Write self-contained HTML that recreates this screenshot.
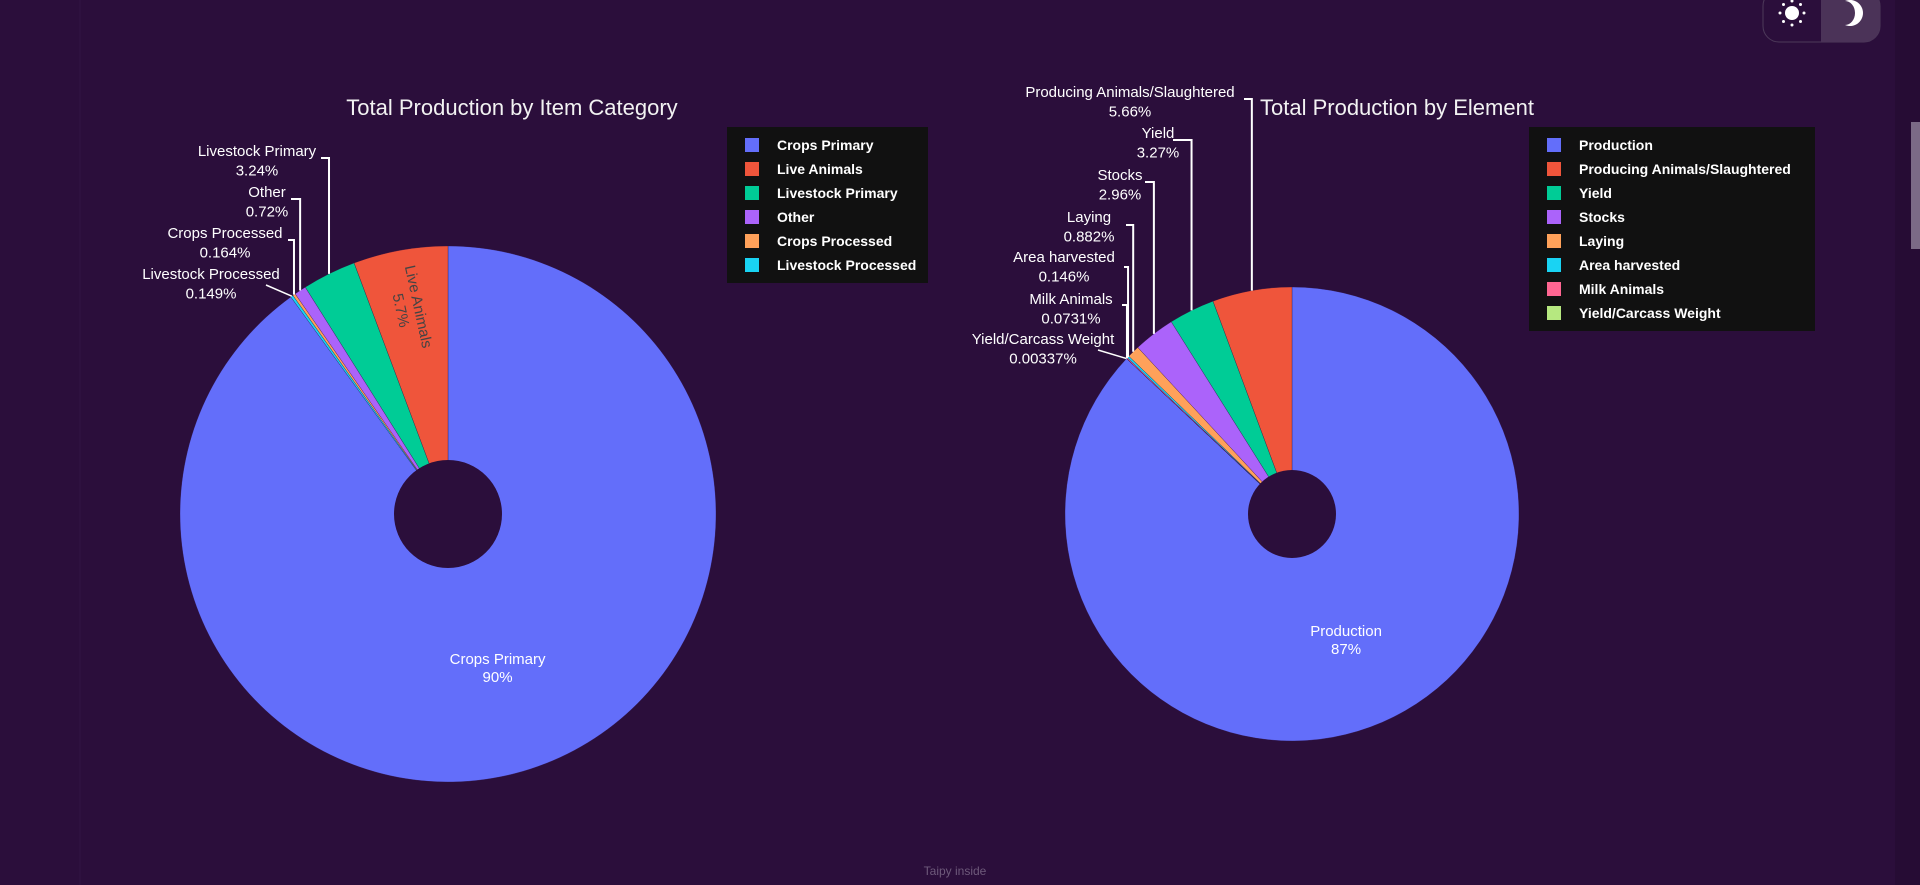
<!DOCTYPE html>
<html><head><meta charset="utf-8">
<style>
html,body{margin:0;padding:0;width:1920px;height:885px;overflow:hidden;background:#2b0e3b;font-family:"Liberation Sans",sans-serif;}
svg{position:absolute;left:0;top:0}
</style></head>
<body>
<svg id="chart" width="1920" height="885">
  <rect x="0" y="0" width="1920" height="885" fill="#2b0e3b"/>
  <line x1="80" y1="0" x2="80" y2="885" stroke="#321443" stroke-width="1"/>
  <rect x="1895" y="0" width="25" height="885" fill="#260c34"/>
  <rect x="1911" y="122" width="9" height="127" fill="#7b6a86"/>
  <g>
    <rect x="1763" y="-10" width="117" height="52" rx="16" fill="#2b0e3b" stroke="#4d3a5a"/>
    <path d="M1821,-10 H1864 A16,16 0 0 1 1880,6 V26 A16,16 0 0 1 1864,42 H1821 Z" fill="#4b3358"/>
    <g fill="#fff">
      <circle cx="1792" cy="13" r="7"/>
      <circle cx="1792" cy="1" r="1.5"/><circle cx="1792" cy="25" r="1.5"/>
      <circle cx="1780" cy="13" r="1.5"/><circle cx="1804" cy="13" r="1.5"/>
      <circle cx="1783.5" cy="4.5" r="1.5"/><circle cx="1800.5" cy="4.5" r="1.5"/>
      <circle cx="1783.5" cy="21.5" r="1.5"/><circle cx="1800.5" cy="21.5" r="1.5"/>
    </g>
    <path d="M1845,1 A13,13 0 1 1 1845,25 A10,12 0 0 0 1845,1 Z" fill="#fff"/>
  </g>
  <text x="512" y="109" fill="#f2f2f2" font-size="22" text-anchor="middle" dominant-baseline="middle">Total Production by Item Category</text>
  <text x="1260" y="109" fill="#f2f2f2" font-size="22" dominant-baseline="middle">Total Production by Element</text>
  <g id="left"></g>
  <g id="right"></g>
  <text x="955" y="872" fill="#6e5a7b" font-size="12" text-anchor="middle" dominant-baseline="middle">Taipy inside</text>
</svg>
<script>
// Left chart data
const leftCategories = ["Crops Primary","Live Animals","Livestock Primary","Other","Crops Processed","Livestock Processed"];
const leftValues = [90.0, 5.7, 3.24, 0.72, 0.164, 0.149];
const leftLabels = ["90%","5.7%","3.24%","0.72%","0.164%","0.149%"];
// Right chart data
const rightCategories = ["Production","Producing Animals/Slaughtered","Yield","Stocks","Laying","Area harvested","Milk Animals","Yield/Carcass Weight"];
const rightValues = [87.0, 5.66, 3.27, 2.96, 0.882, 0.146, 0.0731, 0.00337];
const rightLabels = ["87%","5.66%","3.27%","2.96%","0.882%","0.146%","0.0731%","0.00337%"];
const colors = ["#636efa","#ef553b","#00cc96","#ab63fa","#ffa15a","#19d3f3","#ff6692","#b6e880"];

const NS="http://www.w3.org/2000/svg";
function mk(tag, attrs, parent){const e=document.createElementNS(NS,tag);for(const k in attrs)e.setAttribute(k,attrs[k]);parent.appendChild(e);return e;}
function pt(cx,cy,r,a){const t=a*Math.PI/180;return [cx+r*Math.sin(t), cy-r*Math.cos(t)];}

function drawPie(g, cats, vals, labels, cfg){
  const total = vals.reduce((a,b)=>a+b,0);
  const angles=[];
  let a0=0, a1=vals[0]/total*360; angles.push([a0,a1]);
  let end=360;
  for(let i=1;i<vals.length;i++){const s=vals[i]/total*360;angles.push([end-s,end]);end-=s;}
  for(let i=0;i<vals.length;i++){
    const [s,e]=angles[i];
    const p1=pt(cfg.cx,cfg.cy,cfg.r,s), p2=pt(cfg.cx,cfg.cy,cfg.r,e);
    const large=(e-s)>180?1:0;
    const path=mk("path",{d:`M${cfg.cx},${cfg.cy} L${p1[0]},${p1[1]} A${cfg.r},${cfg.r} 0 ${large} 1 ${p2[0]},${p2[1]} Z`,fill:colors[i],stroke:"#2b0e3b","stroke-width":0.3},g);
    
    
  }
  const hole=mk("circle",{cx:cfg.cx,cy:cfg.cy,r:cfg.hole,fill:"#2b0e3b"},g);
  
  
  const m0=(angles[0][0]+angles[0][1])/2;
  const ip=pt(cfg.cx,cfg.cy,cfg.r*0.6,m0);
  const it=mk("text",{x:ip[0],y:ip[1],fill:"#fff","font-size":15,"text-anchor":"middle"},g);
  
  
  mk("tspan",{x:ip[0],dy:"-0.2em"},it).textContent=cats[0];
  mk("tspan",{x:ip[0],dy:"1.2em"},it).textContent=labels[0];
  cfg.out.forEach(o=>{
    const i=o.i;
    const m=(angles[i][0]+angles[i][1])/2;
    const edge=pt(cfg.cx,cfg.cy,cfg.r,m);
    if(o.lx!==undefined){
      const pl=mk("polyline",{points:`${o.lx},${o.ly} ${edge[0]},${o.ly} ${edge[0]},${edge[1]}`,fill:"none",stroke:"#fff","stroke-width":2},g);
      
      
    } else {
      const pl=mk("polyline",{points:`${o.x+55},${o.y+6} ${edge[0]},${edge[1]}`,fill:"none",stroke:"#fff","stroke-width":1.5},g);
      
      
    }
    const t=mk("text",{x:o.x,y:o.y,fill:"#fff","font-size":15,"text-anchor":"middle"},g);
    
    
    mk("tspan",{x:o.x,dy:"0"},t).textContent=cats[i];
    mk("tspan",{x:o.x,dy:"1.3em"},t).textContent=labels[i];
  });
  const lg=mk("g",{},g);
  
  
  mk("rect",{x:cfg.lgx,y:cfg.lgy,width:cfg.lgw,height:cats.length*24+12,fill:"#111111"},lg);
  cats.forEach((c,i)=>{
    const y=cfg.lgy+18+i*24;
    const e=mk("g",{},lg);
    
    
    mk("rect",{x:cfg.lgx+18,y:y-7,width:14,height:14,fill:colors[i]},e);
    const tx=mk("text",{x:cfg.lgx+50,y:y+5,fill:"#fff","font-size":14,"font-weight":"bold"},e);
    tx.textContent=c;
  });
  return angles;
}

const la = drawPie(document.getElementById("left"), leftCategories, leftValues, leftLabels, {
  cx:448, cy:514, r:268, hole:54, lgx:727, lgy:127, lgw:201,
  out:[
    {i:2, x:257, y:156, lx:321, ly:158},
    {i:3, x:267, y:197, lx:291, ly:199},
    {i:4, x:225, y:238, lx:288, ly:240},
    {i:5, x:211, y:279}
  ]
});
(function(){
  const g=document.getElementById("left");
  const m=(la[1][0]+la[1][1])/2;
  const p=pt(448,514,268*0.78,m);
  const t=mk("text",{x:p[0],y:p[1],fill:"#444","font-size":15,"text-anchor":"middle",transform:`rotate(${m-272},${p[0]},${p[1]})`},g);
  
  
  mk("tspan",{x:p[0],dy:"-0.2em"},t).textContent=leftCategories[1];
  mk("tspan",{x:p[0],dy:"1.2em"},t).textContent=leftLabels[1];
})();

drawPie(document.getElementById("right"), rightCategories, rightValues, rightLabels, {
  cx:1292, cy:514, r:227, hole:44, lgx:1529, lgy:127, lgw:286,
  out:[
    {i:1, x:1130, y:97, lx:1244, ly:99},
    {i:2, x:1158, y:138, lx:1173, ly:140},
    {i:3, x:1120, y:180, lx:1145, ly:182},
    {i:4, x:1089, y:222, lx:1126, ly:225},
    {i:5, x:1064, y:262, lx:1124, ly:267},
    {i:6, x:1071, y:304, lx:1122, ly:305},
    {i:7, x:1043, y:344}
  ]
});
</script>
</body></html>
